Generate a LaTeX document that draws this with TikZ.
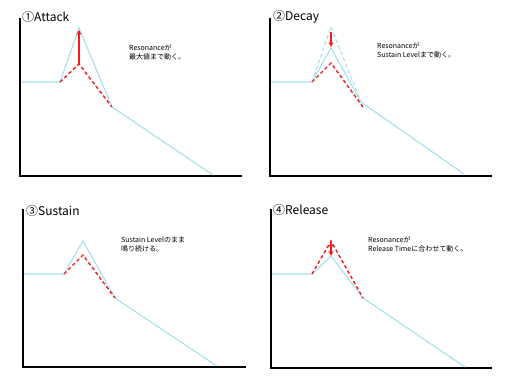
\documentclass[tikz,border=0pt]{standalone}
\usepackage{fontspec}
\newfontfamily\jpfont{Noto Sans CJK JP}
\usetikzlibrary{positioning,arrows.meta}
\definecolor{envcyan}{RGB}{168,222,236}
\definecolor{resred}{RGB}{240,30,30}

\begin{document}
\begin{tikzpicture}[x=1pt, y=-1pt,
	axis/.style     = {draw=black, line width=1.7pt},
	env/.style      = {draw=envcyan, line width=1.1pt},
	env dash/.style = {env, dash pattern=on 4pt off 2.5pt},
	res/.style      = {draw=resred, line width=1.4pt, dash pattern=on 3.5pt off 2.5pt},
	res arrow/.style= {draw=resred, line width=1.2pt, -{Stealth[length=5pt,width=5pt]}},
	title/.style    = {anchor=west, inner sep=0pt, font=\jpfont\fontsize{12}{12}\selectfont},
	memo/.style     = {anchor=west, inner sep=0pt, font=\jpfont\fontsize{7}{9}\selectfont}]
\useasboundingbox (0,0) rectangle (510,383);

% (1) attack
\begin{scope}
\coordinate (a1 top) at (20,18);
\coordinate (a1 org) at (20,176);
\coordinate (a1 end) at (242,176);
\draw[axis] (a1 top) -- (a1 org) -- (a1 end);
\draw[env] (21,82) -- (60,82) -- (79,28) -- (112,107) -- (213,175);
\draw[res] (60,82) -- (79,64) -- (112,107);
\coordinate (a1 from) at (79,64);
\coordinate (a1 to)   at (79,30);
\draw[res arrow] (a1 from) -- (a1 to);
\node[title] (title a) at (22,17) {①Attack};
\node[memo]  (memo a1) at (129,48) {Resonanceが};
\node[memo, below=2pt of memo a1.south west, anchor=north west] (memo a2) {最大値まで動く。};
\end{scope}

% (2) decay
\begin{scope}[shift={(255,0)}]
\coordinate (d1 top) at (15,18);
\coordinate (d1 org) at (15,176);
\coordinate (d1 end) at (237,176);
\draw[axis] (d1 top) -- (d1 org) -- (d1 end);
\draw[env dash] (57,82) -- (76,27) -- (106,102);
\draw[env] (16,82) -- (57,82) -- (76,48) -- (106,102) -- (209,174);
\draw[res] (57,82) -- (76,63) -- (108,107);
\coordinate (d1 from) at (76,32);
\coordinate (d1 to)   at (76,47);
\draw[res arrow] (d1 from) -- (d1 to);
\node[title] (title d) at (18,17) {②Decay};
\node[memo]  (memo d1) at (122,46) {Resonanceが};
\node[memo, below=2pt of memo d1.south west, anchor=north west] (memo d2) {Sustain Levelまで動く。};
\end{scope}

% (3) sustain
\begin{scope}[shift={(0,190)}]
\coordinate (s1 top) at (23,19);
\coordinate (s1 org) at (23,177);
\coordinate (s1 end) at (246,177);
\draw[axis] (s1 top) -- (s1 org) -- (s1 end);
\draw[env] (24,84) -- (64,84) -- (83,51) -- (115,108) -- (217,176);
\draw[res] (64,84) -- (83,65) -- (115,108);
\node[title] (title s) at (26,21) {③Sustain};
\node[memo]  (memo s1) at (121,50) {Sustain Levelのまま};
\node[memo, below=2pt of memo s1.south west, anchor=north west] (memo s2) {鳴り続ける。};
\end{scope}

% (4) release
\begin{scope}[shift={(255,190)}]
\coordinate (r1 top) at (16,19);
\coordinate (r1 org) at (16,178);
\coordinate (r1 end) at (237,178);
\draw[axis] (r1 top) -- (r1 org) -- (r1 end);
\draw[env] (17,84) -- (57,84) -- (76,66) -- (108,108) -- (210,177);
\draw[res] (57,84) -- (76,51) -- (108,108);
\coordinate (r1 from) at (76,52);
\coordinate (r1 to)   at (76,66);
\draw[res arrow, {Stealth[length=5pt,width=5pt]}-{Stealth[length=5pt,width=5pt]}] (r1 from) -- (r1 to);
\node[title] (title r) at (18,20) {④Release};
\node[memo]  (memo r1) at (113,50) {Resonanceが};
\node[memo, below=2pt of memo r1.south west, anchor=north west] (memo r2) {Release Timeに合わせて動く。};
\end{scope}
\end{tikzpicture}
\end{document}
